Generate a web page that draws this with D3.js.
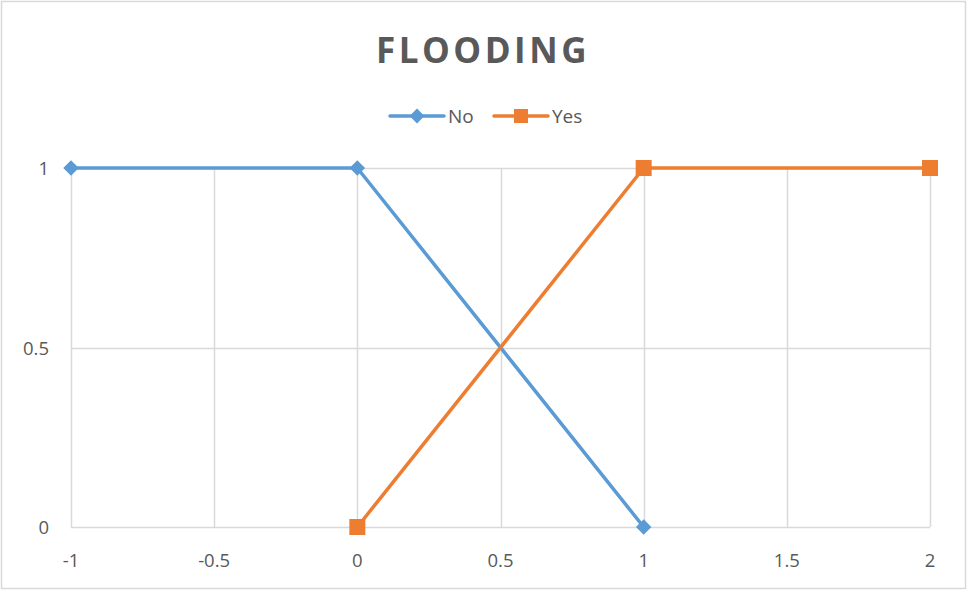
<!DOCTYPE html>
<html>
<head>
<meta charset="utf-8">
<script src="https://cdn.jsdelivr.net/npm/d3@7"></script>
<style>
  html, body { margin: 0; padding: 0; background: #fff; }
  svg { display: block; }
</style>
</head>
<body>
<svg id="chart" width="967" height="590"></svg>
<script>
// Series data
const noX = [-1, 0, 1];
const noY = [1, 1, 0];
const yesX = [0, 1, 2];
const yesY = [0, 1, 1];
const xTicks = [-1, -0.5, 0, 0.5, 1, 1.5, 2];
const yTicks = [0, 0.5, 1];
const seriesNames = ["No", "Yes"];
const chartTitle = "FLOODING";

const W = 967, H = 590;
const colors = { No: "#5B9BD5", Yes: "#ED7D31" };
const textColor = "#595959";
const gridColor = "#D9D9D9";
const font = "'Open Sans', 'Liberation Sans', sans-serif";

const svg = d3.select("#chart");

// Outer chart border
svg.append("rect")
  .attr("x", 1.5).attr("y", 1.5)
  .attr("width", W - 3).attr("height", H - 3)
  .attr("fill", "#fff").attr("stroke", gridColor).attr("stroke-width", 1.5);

const x = d3.scaleLinear().domain([-1, 2]).range([71, 930]);
const y = d3.scaleLinear().domain([0, 1]).range([527, 168]);

// Gridlines
const g = svg.append("g");
g.selectAll("line.vx").data(xTicks).join("line")
  .attr("x1", d => Math.round(x(d)) + 0.5).attr("x2", d => Math.round(x(d)) + 0.5)
  .attr("y1", y(1)).attr("y2", y(0))
  .attr("stroke", gridColor).attr("stroke-width", 1.5);
g.selectAll("line.hy").data(yTicks).join("line")
  .attr("x1", x(-1)).attr("x2", x(2))
  .attr("y1", d => Math.round(y(d)) + 0.5).attr("y2", d => Math.round(y(d)) + 0.5)
  .attr("stroke", gridColor).attr("stroke-width", 1.5);

// Axis tick labels
const fmt = d => String(d);
svg.append("g").selectAll("text").data(xTicks).join("text")
  .attr("x", d => x(d)).attr("y", 567)
  .attr("text-anchor", "middle")
  .attr("font-family", font).attr("font-size", 18.5).attr("fill", textColor)
  .text(fmt);
svg.append("g").selectAll("text").data(yTicks).join("text")
  .attr("x", 49).attr("y", d => y(d) + 7)
  .attr("text-anchor", "end")
  .attr("font-family", font).attr("font-size", 18.5).attr("fill", textColor)
  .text(fmt);

// Lines
const line = d3.line().x(d => x(d[0])).y(d => y(d[1]));
const noData = noX.map((v, i) => [v, noY[i]]);
const yesData = yesX.map((v, i) => [v, yesY[i]]);

svg.append("path").datum(noData).attr("d", line)
  .attr("fill", "none").attr("stroke", colors.No).attr("stroke-width", 3.5)
  .attr("stroke-linejoin", "round");
svg.append("path").datum(yesData).attr("d", line)
  .attr("fill", "none").attr("stroke", colors.Yes).attr("stroke-width", 3.5)
  .attr("stroke-linejoin", "round");

// Markers: rotated squares for "No", squares for "Yes"
const diamondPath = d3.symbol().type(d3.symbolSquare).size(120);
const squarePath = d3.symbol().type(d3.symbolSquare).size(256);

svg.append("g").selectAll("path").data(noData).join("path")
  .attr("transform", d => `translate(${x(d[0])},${y(d[1])}) rotate(45)`)
  .attr("d", diamondPath)
  .attr("fill", colors.No);
svg.append("g").selectAll("path").data(yesData).join("path")
  .attr("transform", d => `translate(${x(d[0])},${y(d[1])})`)
  .attr("d", squarePath)
  .attr("fill", colors.Yes);

// Title
svg.append("text")
  .attr("x", 483).attr("y", 63)
  .attr("text-anchor", "middle")
  .attr("font-family", font).attr("font-size", 35).attr("font-weight", "bold")
  .attr("letter-spacing", "3.5px")
  .attr("fill", textColor)
  .text(chartTitle);

// Legend
const legendItems = [
  { name: seriesNames[0], x0: 390, shape: "diamond" },
  { name: seriesNames[1], x0: 494, shape: "square" }
];
const lg = svg.append("g");
legendItems.forEach(it => {
  const cy = 116;
  lg.append("line")
    .attr("x1", it.x0).attr("x2", it.x0 + 54)
    .attr("y1", cy).attr("y2", cy)
    .attr("stroke", colors[it.name]).attr("stroke-width", 3.5)
    .attr("stroke-linecap", "round");
  if (it.shape === "diamond") {
    lg.append("path")
      .attr("transform", `translate(${it.x0 + 27},${cy}) rotate(45)`)
      .attr("d", d3.symbol().type(d3.symbolSquare).size(110))
      .attr("fill", colors[it.name]);
  } else {
    lg.append("path")
      .attr("transform", `translate(${it.x0 + 27},${cy})`)
      .attr("d", d3.symbol().type(d3.symbolSquare).size(196))
      .attr("fill", colors[it.name]);
  }
  lg.append("text")
    .attr("x", it.x0 + 58).attr("y", cy + 7)
    .attr("font-family", font).attr("font-size", 19).attr("fill", textColor)
    .text(it.name);
});
</script>
</body>
</html>
